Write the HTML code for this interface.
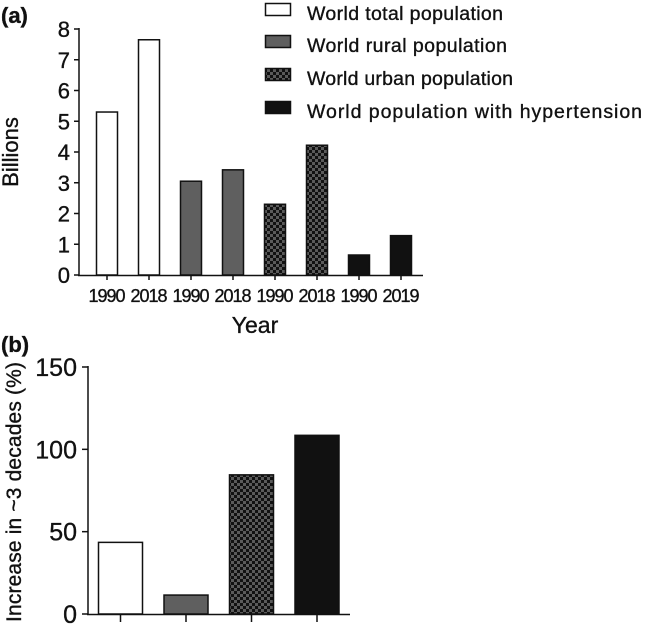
<!DOCTYPE html>
<html><head><meta charset="utf-8"><style>
html,body{margin:0;padding:0;background:#fff;}
svg{display:block;font-family:"Liberation Sans",Arial,sans-serif;}
text{fill:#111;stroke:#111;stroke-width:0.35;}
</style></head><body>
<svg id="svg" width="645" height="628" viewBox="0 0 645 628" xmlns="http://www.w3.org/2000/svg">
<defs>
<pattern id="check" width="6" height="6" patternUnits="userSpaceOnUse">
<rect width="6" height="6" fill="#111"/>
<rect width="3" height="3" fill="#5a5a5a"/>
<rect x="3" y="3" width="3" height="3" fill="#5a5a5a"/>
</pattern>
</defs>
<text x="1" y="23" font-size="22" font-weight="bold">(a)</text>
<text x="1" y="352" font-size="22" font-weight="bold">(b)</text>
<g id="legend">
<rect x="265.5" y="3.5" width="25" height="12" fill="#fff" stroke="#111" stroke-width="1.5"/>
<text x="307" y="20" font-size="19.5" textLength="196">World total population</text>
<rect x="265.5" y="35.5" width="25" height="12" fill="#5f5f5f" stroke="#111" stroke-width="1.5"/>
<text x="307" y="52" font-size="19.5" textLength="200">World rural population</text>
<rect x="265.5" y="68.5" width="25" height="12" fill="url(#check)" stroke="#111" stroke-width="1.5"/>
<text x="307" y="85" font-size="19.5" textLength="206">World urban population</text>
<rect x="265.5" y="101.5" width="25" height="12" fill="#111" stroke="#111" stroke-width="1.5"/>
<text x="307" y="118" font-size="19.5" textLength="335">World population with hypertension</text>
</g>
<g id="chartA"></g>
<g id="chartB"></g>
</svg>
<script>
const catsA = ["1990","2018","1990","2018","1990","2018","1990","2019"];
const valuesA = [5.3, 7.65, 3.05, 3.42, 2.3, 4.22, 0.65, 1.28];
const groupA = ["total","total","rural","rural","urban","urban","hyp","hyp"];
const ticksA = [0,1,2,3,4,5,6,7,8];
const catsB = ["total","rural","urban","hypertension"];
const valuesB = [43.5, 11.5, 84.5, 108.5];
const ticksB = [0,50,100,150];

const NS = "http://www.w3.org/2000/svg";
function mk(parent, tag, attrs, text){
  const e = document.createElementNS(NS, tag);
  for (const k in attrs) e.setAttribute(k, attrs[k]);
  if (text !== undefined) e.textContent = text;
  parent.appendChild(e);
  return e;
}
const fills = {total:"#fff", rural:"#5f5f5f", urban:"url(#check)", hyp:"#111", hypertension:"#111"};

// Chart A
const gA = document.getElementById("chartA");
const yA = v => 275 - v * (246/8);
const xA = i => 107 + i * 42;
let ax = mk(gA, "line", {x1:79, y1:yA(8)-1, x2:79, y2:276, stroke:"#111", "stroke-width":1.5});


ax = mk(gA, "line", {x1:78, y1:275.5, x2:423, y2:275.5, stroke:"#111", "stroke-width":1.5});


ticksA.forEach(t => {
  mk(gA, "line", {x1:74, y1:yA(t), x2:79, y2:yA(t), stroke:"#111", "stroke-width":1.5});
  const tl = mk(gA, "text", {x:70, y:yA(t)+8, "font-size":22, "text-anchor":"end"}, String(t));
  
  
});
valuesA.forEach((v, i) => {
  const b = mk(gA, "rect", {x:xA(i)-10.5, y:yA(v), width:21, height:275-yA(v), fill:fills[groupA[i]], stroke:"#111", "stroke-width":1.5});
  
  
  mk(gA, "line", {x1:xA(i), y1:275, x2:xA(i), y2:280, stroke:"#111", "stroke-width":1.5});
  const tl = mk(gA, "text", {x:xA(i), y:302, "font-size":18, "text-anchor":"middle", textLength:37}, catsA[i]);
  
  
});
let t = mk(gA, "text", {x:255, y:333, "font-size":23, "text-anchor":"middle"}, "Year");


t = mk(gA, "text", {x:0, y:0, "font-size":22, "text-anchor":"middle", transform:"translate(18,152) rotate(-90)"}, "Billions");



// Chart B
const gB = document.getElementById("chartB");
const yB = v => 614 - v * (247/150);
const xB = i => 120.5 + i * 65.5;
ax = mk(gB, "line", {x1:88, y1:yB(150)-1, x2:88, y2:615, stroke:"#111", "stroke-width":1.5});


ax = mk(gB, "line", {x1:87, y1:614.5, x2:350, y2:614.5, stroke:"#111", "stroke-width":1.5});


ticksB.forEach(tv => {
  mk(gB, "line", {x1:82, y1:yB(tv), x2:88, y2:yB(tv), stroke:"#111", "stroke-width":1.5});
  const tl = mk(gB, "text", {x:77, y:yB(tv)+9, "font-size":25, "text-anchor":"end"}, String(tv));
  
  
});
valuesB.forEach((v, i) => {
  const b = mk(gB, "rect", {x:xB(i)-22, y:yB(v), width:44, height:614-yB(v), fill:fills[catsB[i]], stroke:"#111", "stroke-width":1.5});
  
  
  mk(gB, "line", {x1:xB(i), y1:614, x2:xB(i), y2:622, stroke:"#111", "stroke-width":1.5});
});
t = mk(gB, "text", {x:0, y:0, "font-size":21, "text-anchor":"middle", textLength:260, transform:"translate(21,492) rotate(-90)"}, "Increase in ~3 decades (%)");


</script>
</body></html>
